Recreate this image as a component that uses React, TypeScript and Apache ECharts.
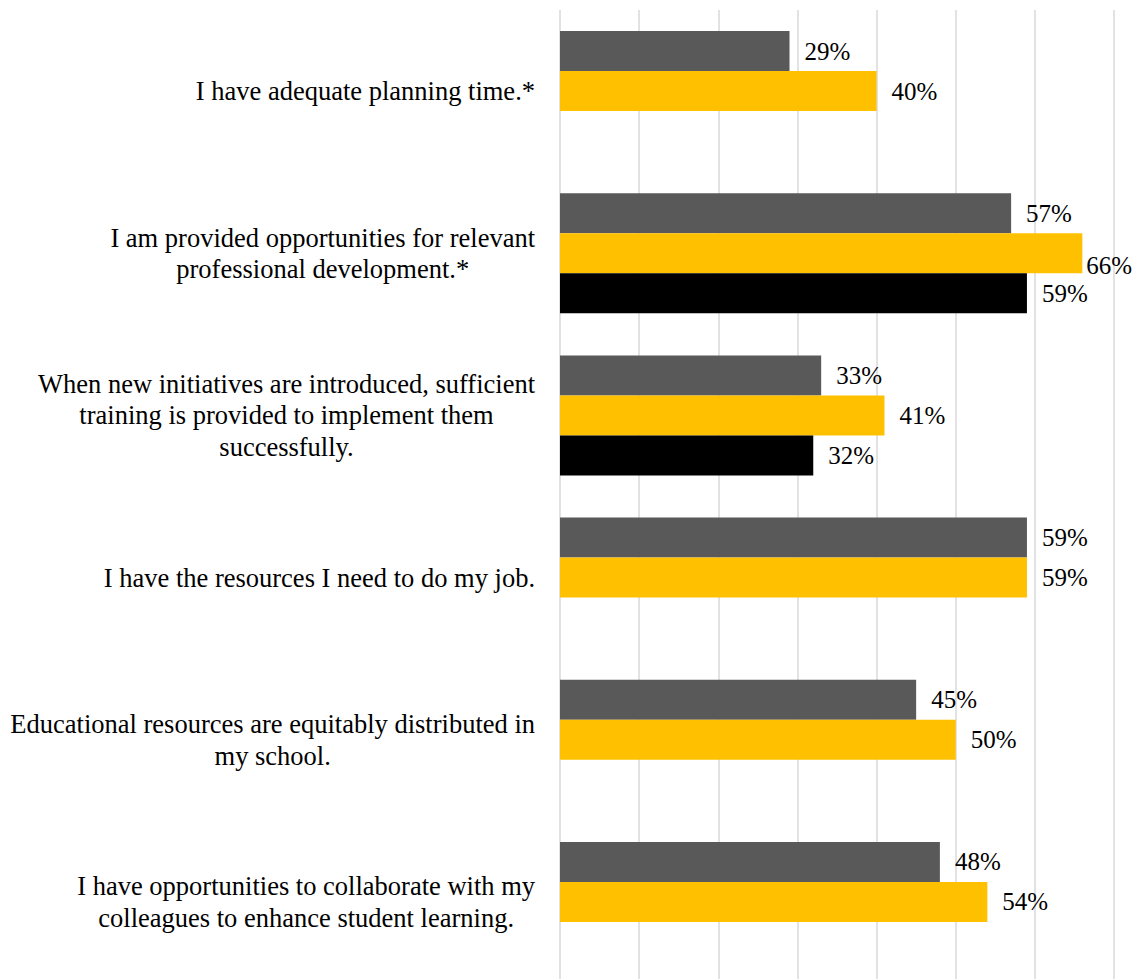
import React, { useEffect, useRef } from "react";
import * as echarts from "echarts";

const categories: string[] = [
  "I have adequate planning time.*",
  "I am provided opportunities for relevant\nprofessional development.*",
  "When new initiatives are introduced, sufficient\ntraining is provided to implement them\nsuccessfully.",
  "I have the resources I need to do my job.",
  "Educational resources are equitably distributed in\nmy school.",
  "I have opportunities to collaborate with my\ncolleagues to enhance student learning.",
];

const seriesNames: string[] = ["Series 1", "Series 2", "Series 3"];
const series1Values: (number | null)[] = [29, 57, 33, 59, 45, 48];
const series2Values: (number | null)[] = [40, 66, 41, 59, 50, 54];
const series3Values: (number | null)[] = [null, 59, 32, null, null, null];
const seriesColors: string[] = ["#595959", "#FFC000", "#000000"];

const xMax = 70;
const xInterval = 10;

const FONT = '"Liberation Serif", "Times New Roman", serif';
const VIEW_W = 1138;

export default function App() {
  const ref = useRef<HTMLDivElement>(null);

  useEffect(() => {
    if (!ref.current) return;
    const chart = echarts.init(ref.current, undefined, { renderer: "svg" });
    const allValues = [series1Values, series2Values, series3Values];
    chart.setOption({
      animation: false,
      backgroundColor: "#ffffff",
      grid: { left: 560, top: 10, width: 554, height: 973, containLabel: false },
      xAxis: {
        type: "value",
        min: 0,
        max: xMax,
        interval: xInterval,
        axisLabel: { show: false },
        axisLine: { show: false },
        axisTick: { show: false },
        splitLine: { show: true, lineStyle: { color: "#d9d9d9", width: 1.5 } },
      },
      yAxis: {
        type: "category",
        inverse: true,
        data: categories,
        axisLine: { show: false },
        axisTick: { show: false },
        axisLabel: {
          margin: 25,
          color: "#000000",
          fontFamily: FONT,
          fontSize: 26.5,
          lineHeight: 31.5,
          formatter: (v: string) =>
            v
              .split("\n")
              .map((l) => `{c|${l}}`)
              .join("\n"),
          rich: {
            c: {
              align: "center",
              fontFamily: FONT,
              fontSize: 26.5,
              lineHeight: 31.5,
              color: "#000000",
            },
          },
        },
      },
      labelLayout: (params: any) => {
        const r = params.labelRect;
        const maxX = VIEW_W - 6 - r.width;
        if (r.x > maxX) {
          return { x: maxX };
        }
        return {};
      },
      series: seriesNames.map((name, i) => ({
        name,
        type: "bar",
        data: allValues[i],
        barWidth: 40,
        barGap: "0%",
        itemStyle: { color: seriesColors[i] },
        label: {
          show: true,
          position: "right",
          distance: 15,
          formatter: "{c}%",
          color: "#000000",
          fontFamily: FONT,
          fontSize: 25,
        },
      })),
    });
    return () => chart.dispose();
  }, []);

  return (
    <div
      style={{
        position: "absolute",
        left: 0,
        top: 0,
        width: VIEW_W,
        height: 979,
        overflow: "hidden",
      }}
    >
      <div ref={ref} style={{ width: VIEW_W, height: 1000 }} />
    </div>
  );
}
